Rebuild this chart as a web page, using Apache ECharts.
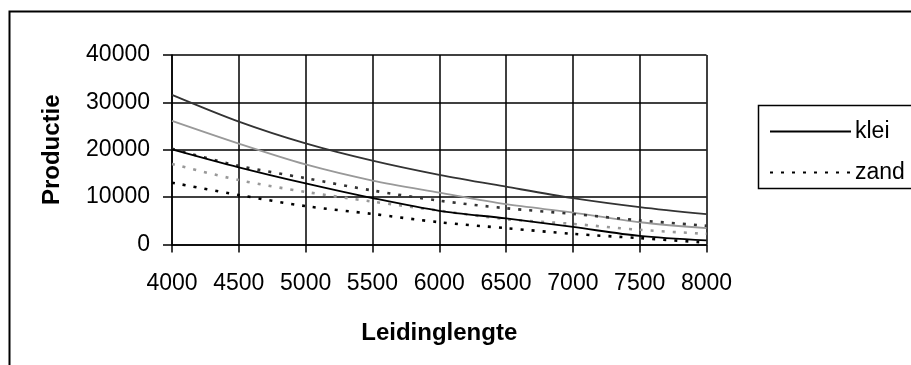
<!DOCTYPE html>
<html>
<head>
<meta charset="utf-8">
<script src="https://cdn.jsdelivr.net/npm/echarts@6/dist/echarts.min.js"></script>
<style>
html,body{margin:0;padding:0;background:#fff;}
#chart{width:911px;height:365px;}
</style>
</head>
<body>
<div id="chart"></div>
<script>
var xValues = [4000, 4500, 5000, 5500, 6000, 6500, 7000, 7500, 8000];
var yTicks = [0, 10000, 20000, 30000, 40000];
var topSolid   = [31600, 25950, 21350, 17700, 14700, 12200, 9800, 7900, 6400];
var graySolid  = [26100, 21300, 16900, 13500, 10950, 8500, 6750, 4700, 3450];
var kleiValues = [20100, 16300, 12900, 9800, 7100, 5500, 3700, 1800, 850];
var darkDotted = [20200, 16600, 14000, 11400, 9250, 7650, 6450, 5100, 3950];
var grayDotted = [17000, 13600, 11100, 9050, 7150, 5350, 4350, 3100, 2250];
var zandValues = [13050, 10450, 8100, 6450, 4700, 3450, 2250, 1350, 400];

function pairs(arr){ return xValues.map(function(x,i){ return [x, arr[i]]; }); }

var FONT = 'Liberation Sans, Arial, sans-serif';
var chart = echarts.init(document.getElementById('chart'), null, {renderer:'canvas'});

function lineSeries(name, data, color, dotted, width, z){
  return {
    name: name, type: 'line', data: pairs(data), symbol: 'none', smooth: 0.3,
    lineStyle: {color: color, width: width, type: dotted ? [3, 8] : 'solid'},
    itemStyle: {color: color}, z: z, animation: false
  };
}

chart.setOption({
  animation: false,
  backgroundColor: '#fff',
  textStyle: {fontFamily: FONT, color: '#000'},
  graphic: [{
    type: 'rect', silent: true,
    shape: {x: 9.5, y: 11.5, width: 1200, height: 1200},
    style: {fill: 'none', stroke: '#000', lineWidth: 2}
  }, {
    type: 'rect', silent: true,
    shape: {x: 758.5, y: 105.5, width: 300, height: 83},
    style: {fill: 'none', stroke: '#000', lineWidth: 1.5}
  }],
  grid: {left: 172, right: 204.5, top: 55, bottom: 120.5},
  legend: {
    data: ['klei', 'zand'],
    orient: 'vertical', left: 758, top: 105,
    padding: [15, 5, 8, 11],
    itemGap: 18, itemWidth: 81, itemHeight: 22,
    itemStyle: {opacity: 0},
    lineStyle: {width: 2},
    textStyle: {fontFamily: FONT, fontSize: 23, color: '#000', padding: [0,0,0,-1]},
    selectedMode: false
  },
  xAxis: {
    type: 'value', min: 4000, max: 8000, interval: 500,
    name: 'Leidinglengte', nameLocation: 'middle', nameGap: 77,
    nameTextStyle: {fontFamily: FONT, fontSize: 24, fontWeight: 'bold', color: '#000'},
    axisLine: {show: true, lineStyle: {color: '#000', width: 1.5}},
    axisTick: {show: true, length: 8, lineStyle: {color: '#000', width: 1.5}},
    axisLabel: {fontFamily: FONT, fontSize: 23, color: '#000', margin: 28,
      formatter: function(v){ return String(v); }},
    splitLine: {show: true, lineStyle: {color: '#000', width: 1.5}}
  },
  yAxis: {
    type: 'value', min: yTicks[0], max: yTicks[yTicks.length-1], interval: 10000,
    name: 'Productie', nameLocation: 'middle', nameGap: 108,
    nameTextStyle: {fontFamily: FONT, fontSize: 24, fontWeight: 'bold', color: '#000'},
    axisLine: {show: true, lineStyle: {color: '#000', width: 1.5}},
    axisTick: {show: true, length: 9, lineStyle: {color: '#000', width: 1.5}},
    axisLabel: {fontFamily: FONT, fontSize: 23, color: '#000', margin: 22,
      formatter: function(v){ return String(v); }},
    splitLine: {show: true, lineStyle: {color: '#000', width: 1.5}}
  },
  series: [
    lineSeries('klei (a)', topSolid, '#333333', false, 1.8, 3),
    lineSeries('klei (b)', graySolid, '#999999', false, 1.8, 3),
    lineSeries('klei', kleiValues, '#000000', false, 1.8, 4),
    lineSeries('zand (a)', darkDotted, '#333333', true, 2.6, 3),
    lineSeries('zand (b)', grayDotted, '#999999', true, 2.6, 3),
    lineSeries('zand', zandValues, '#000000', true, 2.6, 4)
  ]
});
</script>
</body>
</html>
